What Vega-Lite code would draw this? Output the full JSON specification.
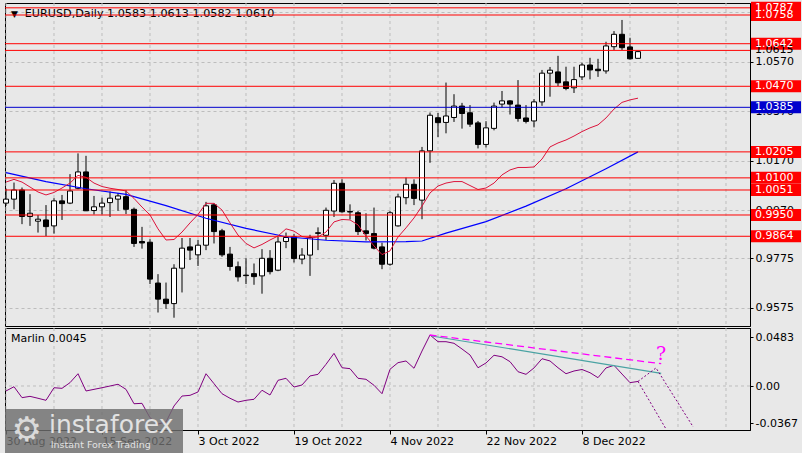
{
  "$schema": "https://vega.github.io/schema/vega-lite/v6.json",
  "background": "#E8E8E8",
  "padding": {"left": 2, "top": 1, "right": 0, "bottom": 0},
  "spacing": 0,
  "config": {
    "view": {"stroke": "#000000", "strokeWidth": 1, "fill": "#E8E8E8"},
    "scale": {"continuousPadding": 0},
    "axis": {"labelFont": "DejaVu Sans", "labelFontSize": 11, "labelColor": "#000000", "domainColor": "#000000", "tickColor": "#000000", "title": null, "labelOverlap": false, "labelFlush": false},
    "text": {"font": "DejaVu Sans"}
  },
  "datasets": {
    "vgrid": [{"i":0},{"i":6},{"i":12},{"i":18},{"i":24},{"i":30},{"i":36},{"i":42},{"i":48},{"i":54},{"i":60},{"i":66},{"i":72},{"i":78},{"i":84},{"i":90}],
    "candles": [
      {"i":0,"o":0.9998,"h":1.0057,"l":0.9987,"c":1.0014,"ma":1.0083,"m":-0.0049},
      {"i":1,"o":1.0014,"h":1.0081,"l":0.9973,"c":1.0051,"ma":1.0094,"m":-0.0007},
      {"i":2,"o":1.0051,"h":1.0061,"l":0.9913,"c":0.9944,"ma":1.0083,"m":-0.0115},
      {"i":3,"o":0.9944,"h":1.0034,"l":0.9906,"c":0.9957,"ma":1.0063,"m":-0.0102},
      {"i":4,"o":0.9925,"h":0.9950,"l":0.9879,"c":0.9933,"ma":1.0043,"m":-0.0121},
      {"i":5,"o":0.9930,"h":0.9990,"l":0.9865,"c":0.9903,"ma":1.0031,"m":-0.0141},
      {"i":6,"o":0.9906,"h":1.0018,"l":0.9875,"c":1.0007,"ma":1.0041,"m":-0.0017},
      {"i":7,"o":1.0007,"h":1.0031,"l":0.9930,"c":0.9996,"ma":1.0059,"m":-0.0023},
      {"i":8,"o":0.9998,"h":1.0115,"l":0.9994,"c":1.0047,"ma":1.0079,"m":0.0033},
      {"i":9,"o":1.0058,"h":1.0199,"l":1.0054,"c":1.0124,"ma":1.0110,"m":0.0121},
      {"i":10,"o":1.0124,"h":1.0189,"l":0.9966,"c":0.9967,"ma":1.0102,"m":-0.0049},
      {"i":11,"o":0.9968,"h":1.0027,"l":0.9952,"c":0.9983,"ma":1.0079,"m":-0.0033},
      {"i":12,"o":0.9983,"h":1.0020,"l":0.9952,"c":0.9998,"ma":1.0065,"m":-0.0017},
      {"i":13,"o":1.0000,"h":1.0045,"l":0.9942,"c":1.0018,"ma":1.0058,"m":0.0000},
      {"i":14,"o":1.0014,"h":1.0039,"l":0.9967,"c":1.0027,"ma":1.0053,"m":0.0017},
      {"i":15,"o":1.0024,"h":1.0050,"l":0.9954,"c":0.9973,"ma":1.0047,"m":-0.0033},
      {"i":16,"o":0.9973,"h":0.9980,"l":0.9821,"c":0.9835,"ma":1.0017,"m":-0.0175},
      {"i":17,"o":0.9843,"h":0.9902,"l":0.9814,"c":0.9837,"ma":0.9982,"m":-0.0171},
      {"i":18,"o":0.9840,"h":0.9852,"l":0.9671,"c":0.9691,"ma":0.9950,"m":-0.0313},
      {"i":19,"o":0.9675,"h":0.9711,"l":0.9556,"c":0.9610,"ma":0.9894,"m":-0.0375},
      {"i":20,"o":0.9610,"h":0.9677,"l":0.9571,"c":0.9592,"ma":0.9849,"m":-0.0355},
      {"i":21,"o":0.9592,"h":0.9751,"l":0.9535,"c":0.9735,"ma":0.9851,"m":-0.0197},
      {"i":22,"o":0.9735,"h":0.9857,"l":0.9637,"c":0.9816,"ma":0.9881,"m":-0.0099},
      {"i":23,"o":0.9821,"h":0.9857,"l":0.9768,"c":0.9808,"ma":0.9918,"m":-0.0092},
      {"i":24,"o":0.9789,"h":0.9849,"l":0.9744,"c":0.9828,"ma":0.9952,"m":-0.0059},
      {"i":25,"o":0.9828,"h":1.0003,"l":0.9808,"c":0.9987,"ma":0.9997,"m":0.0121},
      {"i":26,"o":0.9991,"h":0.9998,"l":0.9835,"c":0.9883,"ma":0.9997,"m":0.0023},
      {"i":27,"o":0.9886,"h":0.9894,"l":0.9781,"c":0.9789,"ma":0.9970,"m":-0.0076},
      {"i":28,"o":0.9792,"h":0.9821,"l":0.9725,"c":0.9742,"ma":0.9918,"m":-0.0121},
      {"i":29,"o":0.9741,"h":0.9762,"l":0.9681,"c":0.9700,"ma":0.9869,"m":-0.0158},
      {"i":30,"o":0.9707,"h":0.9775,"l":0.9671,"c":0.9705,"ma":0.9835,"m":-0.0141},
      {"i":31,"o":0.9713,"h":0.9754,"l":0.9668,"c":0.9701,"ma":0.9817,"m":-0.0131},
      {"i":32,"o":0.9704,"h":0.9812,"l":0.9632,"c":0.9775,"ma":0.9831,"m":-0.0042},
      {"i":33,"o":0.9775,"h":0.9808,"l":0.9710,"c":0.9721,"ma":0.9849,"m":-0.0089},
      {"i":34,"o":0.9727,"h":0.9862,"l":0.9723,"c":0.9841,"ma":0.9865,"m":0.0056},
      {"i":35,"o":0.9843,"h":0.9879,"l":0.9816,"c":0.9859,"ma":0.9894,"m":0.0076},
      {"i":36,"o":0.9862,"h":0.9873,"l":0.9758,"c":0.9774,"ma":0.9885,"m":-0.0010},
      {"i":37,"o":0.9772,"h":0.9816,"l":0.9751,"c":0.9788,"ma":0.9863,"m":0.0010},
      {"i":38,"o":0.9788,"h":0.9870,"l":0.9704,"c":0.9859,"ma":0.9857,"m":0.0099},
      {"i":39,"o":0.9878,"h":0.9900,"l":0.9808,"c":0.9876,"ma":0.9861,"m":0.0115},
      {"i":40,"o":0.9868,"h":0.9980,"l":0.9849,"c":0.9969,"ma":0.9881,"m":0.0214},
      {"i":41,"o":0.9966,"h":1.0091,"l":0.9942,"c":1.0078,"ma":0.9922,"m":0.0322},
      {"i":42,"o":1.0078,"h":1.0094,"l":0.9959,"c":0.9963,"ma":0.9932,"m":0.0180},
      {"i":43,"o":0.9964,"h":0.9993,"l":0.9932,"c":0.9962,"ma":0.9930,"m":0.0171},
      {"i":44,"o":0.9959,"h":0.9966,"l":0.9869,"c":0.9883,"ma":0.9910,"m":0.0076},
      {"i":45,"o":0.9886,"h":0.9957,"l":0.9847,"c":0.9875,"ma":0.9865,"m":0.0066},
      {"i":46,"o":0.9875,"h":0.9980,"l":0.9811,"c":0.9816,"ma":0.9825,"m":0.0007},
      {"i":47,"o":0.9821,"h":0.9838,"l":0.9731,"c":0.9751,"ma":0.9790,"m":-0.0076},
      {"i":48,"o":0.9751,"h":0.9966,"l":0.9745,"c":0.9959,"ma":0.9805,"m":0.0165},
      {"i":49,"o":0.9906,"h":1.0036,"l":0.9903,"c":1.0023,"ma":0.9861,"m":0.0230},
      {"i":50,"o":1.0020,"h":1.0101,"l":0.9993,"c":1.0074,"ma":0.9898,"m":0.0247},
      {"i":51,"o":1.0074,"h":1.0094,"l":0.9990,"c":1.0017,"ma":0.9938,"m":0.0175},
      {"i":52,"o":1.0010,"h":1.0225,"l":0.9933,"c":1.0209,"ma":0.9986,"m":0.0345},
      {"i":53,"o":1.0209,"h":1.0364,"l":1.0161,"c":1.0353,"ma":1.0039,"m":0.0503},
      {"i":54,"o":1.0343,"h":1.0362,"l":1.0265,"c":1.0323,"ma":1.0067,"m":0.0437},
      {"i":55,"o":1.0324,"h":1.0485,"l":1.0280,"c":1.0350,"ma":1.0079,"m":0.0437},
      {"i":56,"o":1.0344,"h":1.0438,"l":1.0326,"c":1.0390,"ma":1.0085,"m":0.0421},
      {"i":57,"o":1.0390,"h":1.0403,"l":1.0299,"c":1.0360,"ma":1.0085,"m":0.0365},
      {"i":58,"o":1.0363,"h":1.0394,"l":1.0306,"c":1.0317,"ma":1.0069,"m":0.0306},
      {"i":59,"o":1.0322,"h":1.0330,"l":1.0219,"c":1.0235,"ma":1.0053,"m":0.0180},
      {"i":60,"o":1.0235,"h":1.0329,"l":1.0223,"c":1.0302,"ma":1.0059,"m":0.0227},
      {"i":61,"o":1.0300,"h":1.0404,"l":1.0292,"c":1.0390,"ma":1.0079,"m":0.0303},
      {"i":62,"o":1.0398,"h":1.0451,"l":1.0384,"c":1.0411,"ma":1.0112,"m":0.0288},
      {"i":63,"o":1.0411,"h":1.0414,"l":1.0356,"c":1.0398,"ma":1.0132,"m":0.0240},
      {"i":64,"o":1.0394,"h":1.0495,"l":1.0327,"c":1.0340,"ma":1.0142,"m":0.0141},
      {"i":65,"o":1.0342,"h":1.0394,"l":1.0320,"c":1.0328,"ma":1.0142,"m":0.0115},
      {"i":66,"o":1.0330,"h":1.0418,"l":1.0304,"c":1.0407,"ma":1.0144,"m":0.0178},
      {"i":67,"o":1.0407,"h":1.0536,"l":1.0391,"c":1.0523,"ma":1.0176,"m":0.0269},
      {"i":68,"o":1.0523,"h":1.0548,"l":1.0428,"c":1.0535,"ma":1.0225,"m":0.0247},
      {"i":69,"o":1.0528,"h":1.0593,"l":1.0471,"c":1.0484,"ma":1.0241,"m":0.0180},
      {"i":70,"o":1.0488,"h":1.0549,"l":1.0454,"c":1.0461,"ma":1.0253,"m":0.0121},
      {"i":71,"o":1.0464,"h":1.0549,"l":1.0443,"c":1.0497,"ma":1.0269,"m":0.0148},
      {"i":72,"o":1.0508,"h":1.0565,"l":1.0495,"c":1.0556,"ma":1.0287,"m":0.0163},
      {"i":73,"o":1.0556,"h":1.0585,"l":1.0498,"c":1.0536,"ma":1.0302,"m":0.0131},
      {"i":74,"o":1.0539,"h":1.0581,"l":1.0508,"c":1.0533,"ma":1.0314,"m":0.0082},
      {"i":75,"o":1.0532,"h":1.0650,"l":1.0521,"c":1.0633,"ma":1.0342,"m":0.0178},
      {"i":76,"o":1.0630,"h":1.0693,"l":1.0617,"c":1.0680,"ma":1.0378,"m":0.0204},
      {"i":77,"o":1.0680,"h":1.0738,"l":1.0617,"c":1.0626,"ma":1.0405,"m":0.0118},
      {"i":78,"o":1.0629,"h":1.0666,"l":1.0578,"c":1.0581,"ma":1.0415,"m":0.0033},
      {"i":79,"o":1.0583,"h":1.0613,"l":1.0582,"c":1.0610,"ma":1.0422,"m":0.0045}
    ],
    "ma2": [
      {"i":0,"v":1.0121},{"i":5,"v":1.0085},{"i":10,"v":1.0056},{"i":15,"v":1.0033},{"i":20,"v":0.9988},{"i":25,"v":0.9937},{"i":30,"v":0.9896},{"i":35,"v":0.9862},{"i":40,"v":0.9848},{"i":45,"v":0.9841},{"i":50,"v":0.9842},{"i":52,"v":0.9845},{"i":55,"v":0.9877},{"i":60,"v":0.9923},{"i":65,"v":0.9986},{"i":70,"v":1.0056},{"i":75,"v":1.0137},{"i":79,"v":1.0205}
    ],
    "levels": [
      {"p":1.0787,"t":"r"},{"p":1.0758,"t":"r"},{"p":1.0615,"t":"r"},{"p":1.0642,"t":"r"},{"p":1.0470,"t":"r"},{"p":1.0385,"t":"b"},{"p":1.0205,"t":"r"},{"p":1.0100,"t":"r"},{"p":1.0051,"t":"r"},{"p":0.9950,"t":"r"},{"p":0.9864,"t":"r"}
    ],
    "trend": [
      {"g":"mag","i":52.96,"v":0.0503},{"g":"mag","i":81.9,"v":0.0220},
      {"g":"cyan","i":53.2,"v":0.0493},{"g":"cyan","i":81.9,"v":0.0125}
    ],
    "proj": [
      {"g":"a","i":79,"v":0.0045},{"g":"a","i":81.25,"v":0.0178},{"g":"a","i":85.9,"v":-0.0404},
      {"g":"b","i":79,"v":0.0045},{"g":"b","i":82.5,"v":-0.0424}
    ]
  },
  "vconcat": [
    {
      "width": 745,
      "height": 323,
      "layer": [
        {
          "data": {"name": "vgrid"},
          "mark": {"type": "rule", "stroke": "#BDBDBD", "strokeDash": [3, 3], "strokeWidth": 1},
          "encoding": {"x": {"field": "i", "type": "quantitative", "scale": {"domain": [-0.125, 93], "nice": false, "zero": false, "padding": 0}, "axis": null}}
        },
        {
          "data": {"name": "candles"},
          "mark": {"type": "rule", "stroke": "#000000", "strokeWidth": 1},
          "encoding": {
            "x": {"field": "i", "type": "quantitative"},
            "y": {"field": "l", "type": "quantitative", "scale": {"domain": [0.95015, 1.08065], "nice": false, "zero": false, "padding": 0},
              "axis": {"orient": "right", "values": [1.077, 1.057, 1.037, 1.017, 0.997, 0.9775, 0.9575], "format": ".4f", "grid": true, "gridDash": [3, 3], "gridColor": "#BDBDBD", "tickSize": 3, "labelPadding": 2}},
            "y2": {"field": "h"}
          }
        },
        {
          "data": {"name": "candles"},
          "mark": {"type": "bar", "size": 5, "stroke": "#000000", "strokeWidth": 1},
          "encoding": {
            "x": {"field": "i", "type": "quantitative"},
            "y": {"field": "o", "type": "quantitative"},
            "y2": {"field": "c"},
            "fill": {"condition": {"test": "datum.c > datum.o", "value": "#FFFFFF"}, "value": "#000000"}
          }
        },
        {
          "data": {"name": "ma2"},
          "mark": {"type": "line", "stroke": "#0000FF", "strokeWidth": 1.2},
          "encoding": {"x": {"field": "i", "type": "quantitative"}, "y": {"field": "v", "type": "quantitative"}}
        },
        {
          "data": {"name": "candles"},
          "mark": {"type": "line", "stroke": "#DC143C", "strokeWidth": 1},
          "encoding": {"x": {"field": "i", "type": "quantitative"}, "y": {"field": "ma", "type": "quantitative"}}
        },
        {
          "data": {"values": [{}]},
          "mark": {"type": "text", "text": "▼", "fontSize": 9, "align": "center", "baseline": "middle", "fill": "#000000"},
          "encoding": {"x": {"datum": 1.06}, "y": {"datum": 1.0764}}
        },
        {
          "data": {"values": [{}]},
          "mark": {"type": "text", "text": "EURUSD,Daily  1.0583 1.0613 1.0582 1.0610", "fontSize": 11.2, "align": "left", "baseline": "middle", "fill": "#000000"},
          "encoding": {"x": {"datum": 2.34}, "y": {"datum": 1.0762}}
        },
        {
          "data": {"name": "levels"},
          "mark": {"type": "rule", "strokeWidth": 1},
          "encoding": {
            "y": {"field": "p", "type": "quantitative"},
            "color": {"field": "t", "type": "nominal", "scale": {"domain": ["r", "b", "k"], "range": ["#FF0000", "#0000CD", "#000000"]}, "legend": null}
          }
        },
        {
          "data": {"name": "levels"},
          "transform": [{"filter": "datum.p != 1.0615"}],
          "mark": {"type": "bar", "orient": "horizontal", "size": 12, "clip": false},
          "encoding": {
            "y": {"field": "p", "type": "quantitative"},
            "x": {"datum": 93.125},
            "x2": {"datum": 99.375},
            "color": {"field": "t", "type": "nominal", "legend": null}
          }
        },
        {
          "data": {"name": "levels"},
          "mark": {"type": "text", "align": "left", "baseline": "middle", "fontSize": 11, "clip": false},
          "encoding": {
            "y": {"field": "p", "type": "quantitative"},
            "x": {"datum": 93.625},
            "text": {"field": "p", "type": "quantitative", "format": ".4f"},
            "fill": {"condition": {"test": "datum.p == 1.0615", "value": "#000000"}, "value": "#FFFFFF"}
          }
        }
      ]
    },
    {
      "width": 745,
      "height": 102,
      "layer": [
        {
          "data": {"name": "vgrid"},
          "mark": {"type": "rule", "stroke": "#BDBDBD", "strokeDash": [3, 3], "strokeWidth": 1},
          "encoding": {"x": {"field": "i", "type": "quantitative", "scale": {"domain": [-0.125, 93], "nice": false, "zero": false, "padding": 0},
            "axis": {"values": [0, 12, 24, 36, 48, 60, 72], "grid": false, "tickSize": 4, "labelPadding": 1, "labelAlign": "left", "labelBaseline": "top",
              "labelExpr": "datum.value == 0 ? '30 Aug 2022' : datum.value == 12 ? '15 Sep 2022' : datum.value == 24 ? '3 Oct 2022' : datum.value == 36 ? '19 Oct 2022' : datum.value == 48 ? '4 Nov 2022' : datum.value == 60 ? '22 Nov 2022' : '8 Dec 2022'"}}}
        },
        {
          "data": {"values": [{}]},
          "mark": {"type": "rule", "stroke": "#BDBDBD", "strokeDash": [3, 3], "strokeWidth": 1},
          "encoding": {"y": {"datum": 0, "type": "quantitative", "scale": {"domain": [-0.04339, 0.0572], "nice": false, "zero": false, "padding": 0},
            "axis": {"orient": "right", "values": [0.0483, 0, -0.0367], "grid": false, "tickSize": 3, "labelPadding": 2,
              "labelExpr": "datum.value == 0 ? '0.00' : (datum.value < 0 ? '-' + format(-datum.value, '.4f') : format(datum.value, '.4f'))"}}}
        },
        {
          "data": {"name": "candles"},
          "mark": {"type": "line", "stroke": "#800080", "strokeWidth": 1},
          "encoding": {"x": {"field": "i", "type": "quantitative"}, "y": {"field": "m", "type": "quantitative"}}
        },
        {
          "data": {"name": "trend"},
          "transform": [{"filter": "datum.g == 'cyan'"}],
          "mark": {"type": "line", "stroke": "#4AA3A3", "strokeWidth": 1.2},
          "encoding": {"x": {"field": "i", "type": "quantitative"}, "y": {"field": "v", "type": "quantitative"}}
        },
        {
          "data": {"name": "trend"},
          "transform": [{"filter": "datum.g == 'mag'"}],
          "mark": {"type": "line", "stroke": "#FF00FF", "strokeWidth": 1.3, "strokeDash": [7, 4]},
          "encoding": {"x": {"field": "i", "type": "quantitative"}, "y": {"field": "v", "type": "quantitative"}}
        },
        {
          "data": {"name": "proj"},
          "mark": {"type": "line", "stroke": "#800080", "strokeWidth": 1, "strokeDash": [2, 2]},
          "encoding": {"x": {"field": "i", "type": "quantitative"}, "y": {"field": "v", "type": "quantitative"}, "detail": {"field": "g"}}
        },
        {
          "data": {"values": [{}]},
          "mark": {"type": "text", "text": "?", "font": "DejaVu Serif", "fontSize": 19, "align": "center", "baseline": "middle", "fill": "#FF00FF"},
          "encoding": {"x": {"datum": 81.9}, "y": {"datum": 0.0316}}
        },
        {
          "data": {"values": [{}]},
          "mark": {"type": "text", "text": "Marlin 0.0045", "fontSize": 11, "align": "left", "baseline": "middle", "fill": "#000000"},
          "encoding": {"x": {"datum": 0.625}, "y": {"datum": 0.0463}}
        },
        {
          "data": {"values": [{}]},
          "mark": {"type": "rect", "fill": "#6E6E6E", "opacity": 0.82, "clip": false},
          "encoding": {"x": {"datum": -0.125}, "x2": {"datum": 22.125}, "y": {"datum": -0.0227}, "y2": {"datum": -0.0671}}
        },
        {
          "data": {"values": [{}]},
          "mark": {"type": "text", "text": "⚙", "fontSize": 34, "align": "center", "baseline": "middle", "fill": "#DADADA", "clip": false},
          "encoding": {"x": {"datum": 2.6}, "y": {"datum": -0.0444}}
        },
        {
          "data": {"values": [{}]},
          "mark": {"type": "text", "text": "instaforex", "fontSize": 25, "align": "left", "baseline": "middle", "fill": "#E2E2E2", "clip": false},
          "encoding": {"x": {"datum": 5.375}, "y": {"datum": -0.0385}}
        },
        {
          "data": {"values": [{}]},
          "mark": {"type": "text", "text": "Instant Forex Trading", "fontSize": 9.5, "align": "left", "baseline": "middle", "fill": "#E2E2E2", "clip": false},
          "encoding": {"x": {"datum": 5.6}, "y": {"datum": -0.0582}}
        }
      ]
    }
  ]
}
